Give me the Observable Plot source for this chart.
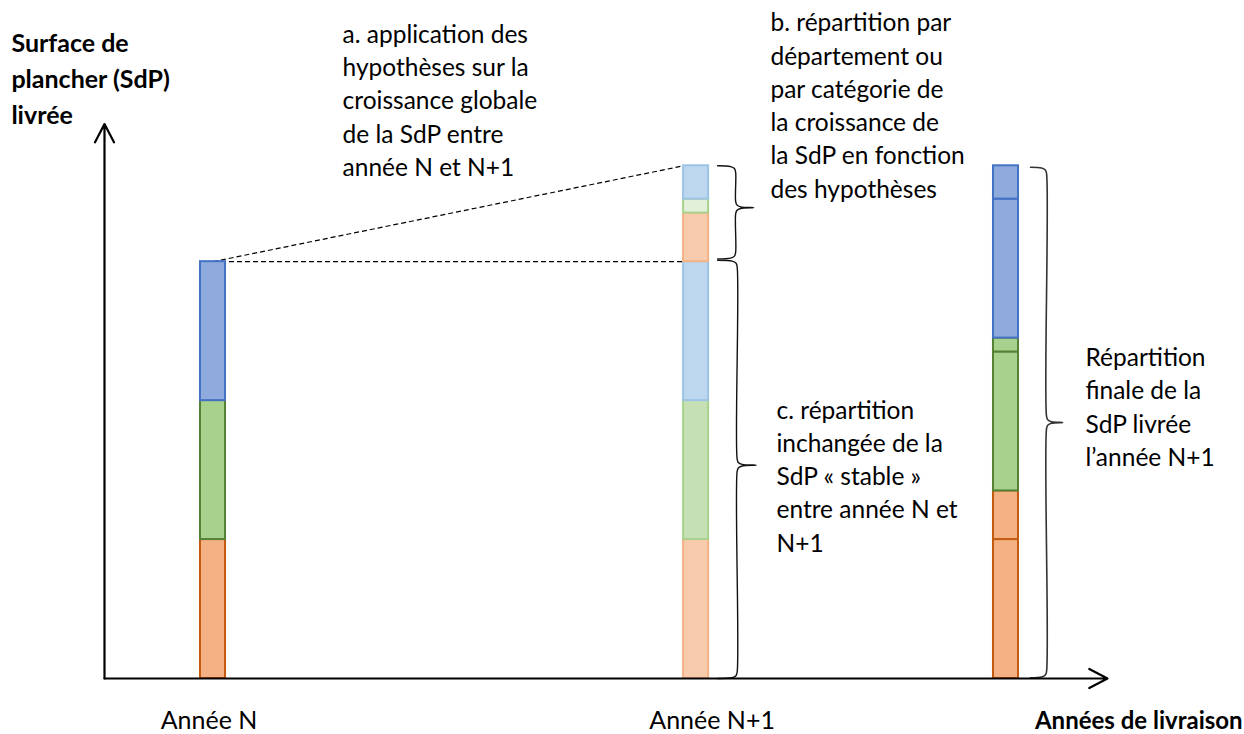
<!DOCTYPE html>
<html>
<head>
<meta charset="utf-8">
<script src="https://cdn.jsdelivr.net/npm/d3@7"></script>
<script src="https://cdn.jsdelivr.net/npm/@observablehq/plot@0.6"></script>
<style>
  html, body { margin: 0; padding: 0; background: #fff; }
  svg { display: block; }
</style>
</head>
<body>
<div id="chart"></div>
<script>
// ---- Data ----
const yearLabels = ["Année N", "Année N+1"];
const barNames = ["Année N", "Année N+1 (étapes)", "Année N+1 (finale)"];
const barPos = [10.84, 59.1, 90.06];          // position along the years axis
const categories = ["cat. orange", "cat. verte", "cat. bleue"]; // bottom to top
const stableSdP = [100, 100, 100];            // SdP "stable" per category
const growthSdP = [35, 10, 24];               // growth per category between N and N+1
const xAxisTitle = "Années de livraison";
const yAxisTitle = "Surface de\nplancher (SdP)\nlivrée";
const noteA = "a. application des\nhypothèses sur la\ncroissance globale\nde la SdP entre\nannée N et N+1";
const noteB = "b. répartition par\ndépartement ou\npar catégorie de\nla croissance de\nla SdP en fonction\ndes hypothèses";
const noteC = "c. répartition\ninchangée de la\nSdP « stable »\nentre année N et\nN+1";
const noteD = "Répartition\nfinale de la\nSdP livrée\nl’année N+1";

// ---- Styles ----
const darkFill = ["#F4B183", "#A9D18E", "#8FAADC"];
const darkStroke = ["#C55A11", "#548235", "#4472C4"];
const lightFill = ["#F8CBAD", "#C5E0B4", "#BDD7EE"];
const lightStroke = ["#F4B183", "#A9D18E", "#9DC3E6"];
const lightGrowthFill = ["#F8CBAD", "#E2F0D9", "#BDD7EE"];
const halfW = 1.25;

// ---- Build segments ----
const segs = [];
const totalStable = d3.sum(stableSdP);
const totalGrowth = d3.sum(growthSdP);
{
  let acc = 0;
  categories.forEach((c, i) => {
    segs.push({bar: 0, y1: acc, y2: acc + stableSdP[i], fill: darkFill[i], stroke: darkStroke[i]});
    acc += stableSdP[i];
  });
}
{
  let acc = 0;
  categories.forEach((c, i) => {
    segs.push({bar: 1, y1: acc, y2: acc + stableSdP[i], fill: lightFill[i], stroke: lightStroke[i]});
    acc += stableSdP[i];
  });
  categories.forEach((c, i) => {
    segs.push({bar: 1, y1: acc, y2: acc + growthSdP[i], fill: lightGrowthFill[i], stroke: lightStroke[i]});
    acc += growthSdP[i];
  });
}
{
  let acc = 0;
  categories.forEach((c, i) => {
    segs.push({bar: 2, y1: acc, y2: acc + stableSdP[i], fill: darkFill[i], stroke: darkStroke[i]});
    acc += stableSdP[i];
    segs.push({bar: 2, y1: acc, y2: acc + growthSdP[i], fill: darkFill[i], stroke: darkStroke[i]});
    acc += growthSdP[i];
  });
}

// ---- Braces ----
function brace(xl, xv, xt, top, bot, frac) {
  const mid = top - (top - bot) * frac;
  return [
    [xl, top], [xv - 0.5, top - 0.6], [xv - 0.12, top - 2], [xv, top - 4.5],
    [xv, mid + 4.5], [xv + 0.12, mid + 2], [xv + 0.5, mid + 0.6], [xt, mid],
    [xv + 0.5, mid - 0.6], [xv + 0.12, mid - 2], [xv, mid - 4.5],
    [xv, bot + 4.5], [xv - 0.12, bot + 2], [xv - 0.5, bot + 0.6], [xl, bot]
  ].map(([x, y]) => ({x, y}));
}
const topAll = totalStable + totalGrowth;
const brace1 = brace(barPos[1] + 2.15, barPos[1] + 3.95, barPos[1] + 5.75, topAll, totalStable + 2, 0.45);
const brace2 = brace(barPos[1] + 2.15, barPos[1] + 4.1, barPos[1] + 6.0, totalStable + 1, 0, 0.49);
const brace3 = brace(barPos[2] + 2.45, barPos[2] + 4.05, barPos[2] + 5.65, topAll - 1, 0.5, 0.5);

const font = "Lato, 'Open Sans', sans-serif";
const noteSize = 24.5;

const chart = Plot.plot({
  width: 1244,
  height: 734,
  marginLeft: 104,
  marginRight: 139,
  marginTop: 125,
  marginBottom: 56,
  style: {fontFamily: font, background: "#fff", overflow: "visible"},
  x: {domain: [0, 100], axis: null},
  y: {domain: [0, 398], axis: null},
  marks: [
    Plot.link([
      {x1: barPos[0], y1: totalStable, x2: barPos[1] - halfW, y2: topAll},
      {x1: barPos[0], y1: totalStable, x2: barPos[1] - halfW, y2: totalStable}
    ], {x1: "x1", y1: "y1", x2: "x2", y2: "y2", stroke: "#000", strokeWidth: 1.2, strokeDasharray: "5,3"}),
    Plot.rect(segs, {
      x1: d => barPos[d.bar] - halfW, x2: d => barPos[d.bar] + halfW,
      y1: "y1", y2: "y2",
      fill: d => d.fill, stroke: d => d.stroke, strokeWidth: 2
    }),
    Plot.line(brace1, {x: "x", y: "y", stroke: "#111", strokeWidth: 1.4, curve: "catmull-rom"}),
    Plot.line(brace2, {x: "x", y: "y", stroke: "#111", strokeWidth: 1.4, curve: "catmull-rom"}),
    Plot.line(brace3, {x: "x", y: "y", stroke: "#333", strokeWidth: 1.6, curve: "catmull-rom"}),
    Plot.arrow([{x1: 0, y1: 0, x2: 100.2, y2: 0}], {x1: "x1", y1: "y1", x2: "x2", y2: "y2", stroke: "#000", strokeWidth: 2.2, headLength: 14, headAngle: 55}),
    Plot.arrow([{x1: 0, y1: 0, x2: 0, y2: 399}], {x1: "x1", y1: "y1", x2: "x2", y2: "y2", stroke: "#000", strokeWidth: 2.2, headLength: 14, headAngle: 55}),
    Plot.text([yearLabels[0]], {x: barPos[0], dx: -4, y: -30.5, text: d => d, fontSize: 25, fill: "#000", textAnchor: "middle"}),
    Plot.text([yearLabels[1]], {x: barPos[1], dx: 16, y: -30.5, text: d => d, fontSize: 25, fill: "#000", textAnchor: "middle"}),
    Plot.text([xAxisTitle], {x: 113.7, y: -30.5, text: d => d, fontSize: 24, fontWeight: "bold", fill: "#000", textAnchor: "end"}),
    Plot.text([yAxisTitle], {x: -9.3, y: 433, text: d => d, fontSize: 25, fontWeight: "bold", fill: "#000", textAnchor: "start", lineHeight: 1.44}),
    Plot.text([noteA], {x: 23.78, y: 417.2, text: d => d, fontSize: noteSize, fill: "#000", textAnchor: "start", lineHeight: 1.36}),
    Plot.text([noteB], {x: 66.53, y: 413.6, text: d => d, fontSize: noteSize, fill: "#000", textAnchor: "start", lineHeight: 1.36}),
    Plot.text([noteC], {x: 67.13, y: 146.8, text: d => d, fontSize: noteSize, fill: "#000", textAnchor: "start", lineHeight: 1.36}),
    Plot.text([noteD], {x: 98.0, y: 196.5, text: d => d, fontSize: noteSize, fill: "#000", textAnchor: "start", lineHeight: 1.36})
  ]
});
document.getElementById("chart").appendChild(chart);
</script>
</body>
</html>
